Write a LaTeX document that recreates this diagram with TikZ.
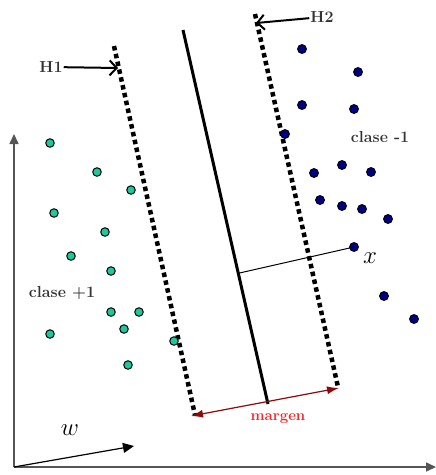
\documentclass[tikz,border=0pt]{standalone}
\usetikzlibrary{arrows.meta, calc}
\definecolor{cgreen}{HTML}{1DC89C}
\definecolor{cnavy}{HTML}{000080}
\definecolor{cmaroon}{HTML}{8B0A0A}
\definecolor{cred}{HTML}{F02828}
\definecolor{caxis}{HTML}{555555}
\definecolor{ctext}{HTML}{333333}
\tikzset{
  every picture/.style={x=1pt, y=-1pt},
  plusdot/.style={circle, draw=black, fill=cgreen, line width=1pt, inner sep=0pt, minimum size=8.5pt},
  minusdot/.style={circle, draw=black, fill=cnavy, line width=0.8pt, inner sep=0pt, minimum size=9pt},
  axis/.style={draw=caxis, line width=1.6pt, -{Triangle[length=10pt, width=9pt]}},
  wvec/.style={line width=1.2pt, -{Triangle[length=11pt, width=10pt]}},
  hplane/.style={line width=4.5pt, dash pattern=on 4.5pt off 3.5pt},
  pointer/.style={line width=2pt, -{Straight Barb[length=7pt, width=15pt]}},
  margin/.style={draw=cmaroon, line width=1.2pt, {Latex[length=12pt, width=8pt]}-{Latex[length=12pt, width=8pt]}},
  tag/.style={font=\fontsize{16}{18}\selectfont\bfseries, text=ctext, inner sep=1pt},
  vlab/.style={font=\fontsize{25}{27}\selectfont, inner sep=0pt},
}

\begin{document}
\begin{tikzpicture}
  \useasboundingbox (0,0) rectangle (436,475);
  % axes and w
  \coordinate (o) at (14,467);
  \coordinate (ytip) at (14,134);
  \coordinate (xtip) at (436,467);
  \draw[axis] (o) -- (ytip);
  \draw[axis] (o) -- (xtip);
  \coordinate (wtip) at (134,446);
  \draw[wvec] (o) -- (wtip);
  \node[vlab] (wlab) at (70,430) {$w$};
  % hyperplanes
  \coordinate (h1top) at (114,46); \coordinate (h1bot) at (195,415);
  \coordinate (h2top) at (255,14); \coordinate (h2bot) at (338,387);
  \coordinate (svtop) at (183,30); \coordinate (svbot) at (268,404);
  \draw[hplane] (h1top) -- (h1bot);
  \draw[hplane] (h2top) -- (h2bot);
  \draw[line width=3pt] (svtop) -- (svbot);
  % H1, H2
  \node[tag] (H1) at (51,67) {H1};
  \node[tag] (H2) at (322,17) {H2};
  \coordinate (h1tip) at (118,68);
  \coordinate (h2tip) at (256,23);
  \draw[pointer] (H1) -- (h1tip);
  \draw[pointer] (H2) -- (h2tip);
  % margin
  \coordinate (mleft) at (191,416);
  \coordinate (mright) at (339,388);
  \draw[margin] (mleft) -- (mright);
  \node[tag, text=cred, font=\fontsize{15}{17}\selectfont\bfseries] (mlab) at (278,419) {margen};
  % clase +1
  \node[plusdot] (p1) at (50,143) {};  \node[plusdot] (p2) at (97,172) {};   \node[plusdot] (p3) at (131,190) {};
  \node[plusdot] (p4) at (54,213) {};  \node[plusdot] (p5) at (105,232) {};  \node[plusdot] (p6) at (71,256) {};
  \node[plusdot] (p7) at (111,271) {}; \node[plusdot] (p8) at (111,312) {};  \node[plusdot] (p9) at (139,312) {};
  \node[plusdot] (p10) at (124,329) {}; \node[plusdot] (p11) at (50,334) {}; \node[plusdot] (p12) at (174,341) {};
  \node[plusdot] (p13) at (128,365) {};
  \node[tag] (plus lab) at (62,293) {clase +1};
  % clase -1
  \node[minusdot] (n1) at (302,49) {};  \node[minusdot] (n2) at (358,72) {};   \node[minusdot] (n3) at (302,105) {};
  \node[minusdot] (n4) at (354,109) {}; \node[minusdot] (n5) at (285,134) {};  \node[minusdot] (n6) at (342,165) {};
  \node[minusdot] (n7) at (314,173) {}; \node[minusdot] (n8) at (371,172) {};  \node[minusdot] (n9) at (320,200) {};
  \node[minusdot] (n10) at (342,206) {}; \node[minusdot] (n11) at (362,209) {}; \node[minusdot] (n12) at (388,219) {};
  \node[minusdot] (n13) at (384,296) {}; \node[minusdot] (n14) at (414,319) {};
  \node[tag] (minus lab) at (380,137) {clase -1};
  % point x and its distance
  \node[minusdot] (px) at (354,247) {};
  \draw[line width=1pt] (px.center) -- ($(svtop)!(px.center)!(svbot)$);
  \node[vlab] (xlab) at (370,258) {$x$};
\end{tikzpicture}
\end{document}
